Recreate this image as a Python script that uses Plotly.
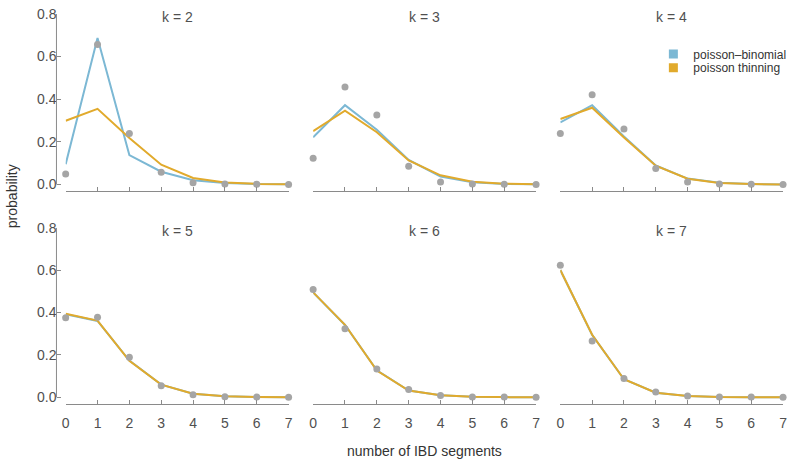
import plotly.graph_objects as go

W, H = 792, 461

segments = [0, 1, 2, 3, 4, 5, 6, 7]
k_values = [2, 3, 4, 5, 6, 7]

observed = {
    2: [0.049, 0.656, 0.239, 0.057, 0.008, 0.002, 0.001, 0.000],
    3: [0.123, 0.457, 0.326, 0.086, 0.012, 0.003, 0.001, 0.000],
    4: [0.239, 0.421, 0.260, 0.075, 0.012, 0.003, 0.001, 0.000],
    5: [0.375, 0.377, 0.189, 0.054, 0.012, 0.003, 0.001, 0.000],
    6: [0.508, 0.323, 0.134, 0.037, 0.009, 0.002, 0.001, 0.000],
    7: [0.623, 0.266, 0.089, 0.025, 0.006, 0.002, 0.001, 0.000],
}
poisson_binomial = {
    2: [0.095, 0.687, 0.138, 0.060, 0.020, 0.007, 0.002, 0.001],
    3: [0.221, 0.372, 0.257, 0.115, 0.038, 0.011, 0.003, 0.001],
    4: [0.291, 0.372, 0.225, 0.089, 0.028, 0.008, 0.002, 0.000],
    5: [0.392, 0.360, 0.173, 0.060, 0.017, 0.005, 0.001, 0.000],
    6: [0.494, 0.341, 0.127, 0.032, 0.010, 0.003, 0.001, 0.000],
    7: [0.600, 0.294, 0.085, 0.022, 0.006, 0.001, 0.000, 0.000],
}
poisson_thinning = {
    2: [0.299, 0.355, 0.218, 0.093, 0.031, 0.010, 0.003, 0.001],
    3: [0.250, 0.346, 0.245, 0.113, 0.043, 0.013, 0.004, 0.001],
    4: [0.307, 0.360, 0.220, 0.088, 0.027, 0.007, 0.002, 0.000],
    5: [0.394, 0.362, 0.172, 0.060, 0.017, 0.005, 0.001, 0.000],
    6: [0.495, 0.342, 0.126, 0.032, 0.010, 0.003, 0.001, 0.000],
    7: [0.600, 0.295, 0.085, 0.022, 0.006, 0.001, 0.000, 0.000],
}
y_ticks = [0.0, 0.2, 0.4, 0.6, 0.8]
series_names = ["poisson\u2013binomial", "poisson thinning"]

BLUE = "#7cb8d4"
ORANGE = "#e1aa2c"
GREY = "#a5a5a5"
AXIS = "#8a8a8a"
TEXT = "#505050"
FONT = "Liberation Sans, Arial, Helvetica, sans-serif"

def px_x(p):
    return p / W

def px_y(p):
    return 1 - p / H

col_dom = [(62.3, 287.5), (312.3, 537.5), (562.0, 787.0)]
row_dom = [(187.0, 6.0), (404.0, 224.0)]  # (bottom px, top px)
y_range = [-0.032, 0.8]

fig = go.Figure()
layout = {}
shapes = []
annotations = []

for i, k in enumerate(k_values):
    r, c = divmod(i, 3)
    n = i + 1
    xa = f"x{n}" if n > 1 else "x"
    ya = f"y{n}" if n > 1 else "y"
    fig.add_trace(go.Scatter(x=segments, y=poisson_binomial[k], mode="lines",
                             line=dict(color=BLUE, width=2), xaxis=xa, yaxis=ya,
                             showlegend=False, hoverinfo="skip"))
    fig.add_trace(go.Scatter(x=segments, y=poisson_thinning[k], mode="lines",
                             line=dict(color=ORANGE, width=2), xaxis=xa, yaxis=ya,
                             showlegend=False, hoverinfo="skip"))
    fig.add_trace(go.Scatter(x=segments, y=observed[k], mode="markers",
                             marker=dict(color=GREY, size=7), cliponaxis=False,
                             xaxis=xa, yaxis=ya, showlegend=False))
    x0, x1 = col_dom[c]
    yb, yt = row_dom[r]
    xkey = "xaxis" if n == 1 else f"xaxis{n}"
    ykey = "yaxis" if n == 1 else f"yaxis{n}"
    layout[xkey] = dict(domain=[px_x(x0), px_x(x1)], range=[0, 7], anchor=ya,
                        showline=True, linecolor=AXIS, linewidth=1,
                        ticks="inside", ticklen=4, tickcolor=AXIS, tickwidth=1,
                        tickvals=segments, showticklabels=(r == 1),
                        tickfont=dict(size=14, color=TEXT, family=FONT),
                        ticklabelstandoff=6,
                        showgrid=False, zeroline=False, fixedrange=True)
    if c == 0:
        layout[ykey] = dict(domain=[px_y(yb), px_y(yt)], range=y_range,
                            anchor="free", position=px_x(53),
                            showline=False, ticks="inside", ticklen=4,
                            tickcolor=AXIS, tickwidth=1, tickvals=y_ticks,
                            tickformat=".1f",
                            tickfont=dict(size=14, color=TEXT, family=FONT),
                            showgrid=False, zeroline=False, fixedrange=True)
        shapes.append(dict(type="line", xref="paper", yref=ya,
                           x0=px_x(53), x1=px_x(53), y0=y_ticks[0], y1=y_ticks[-1],
                           line=dict(color=AXIS, width=1)))
    else:
        layout[ykey] = dict(domain=[px_y(yb), px_y(yt)], range=y_range,
                            anchor=xa, visible=False, fixedrange=True)
    annotations.append(dict(text=f"k = {k}", xref="paper", yref="paper",
                            x=px_x((x0 + x1) / 2), y=px_y(yt + 3.5),
                            xanchor="center", yanchor="middle", showarrow=False,
                            font=dict(size=14, color=TEXT, family=FONT)))

# legend entries (two separate legends so the rows sit close together)
fig.add_trace(go.Scatter(x=[None], y=[None], mode="markers", name=series_names[0],
                         marker=dict(symbol="square", size=9, color=BLUE),
                         legend="legend"))
fig.add_trace(go.Scatter(x=[None], y=[None], mode="markers", name=series_names[1],
                         marker=dict(symbol="square", size=9, color=ORANGE),
                         legend="legend2"))

annotations.append(dict(text="probability", xref="paper", yref="paper",
                        x=px_x(8), y=px_y(192), textangle=-90,
                        xanchor="center", yanchor="middle", showarrow=False,
                        font=dict(size=14, color="#333333", family=FONT)))
annotations.append(dict(text="number of IBD segments", xref="paper", yref="paper",
                        x=px_x(425), y=px_y(451.5),
                        xanchor="center", yanchor="middle", showarrow=False,
                        font=dict(size=14, color="#333333", family=FONT)))

leg_common = dict(xanchor="left", yanchor="middle",
                  font=dict(size=12, color="#333333", family=FONT),
                  bgcolor="rgba(0,0,0,0)", itemwidth=30, borderwidth=0)

fig.update_layout(
    width=W, height=H,
    margin=dict(l=0, r=0, t=0, b=0),
    paper_bgcolor="white", plot_bgcolor="white",
    font=dict(family=FONT, color=TEXT),
    showlegend=True,
    legend=dict(x=px_x(656), y=px_y(47), **leg_common),
    legend2=dict(x=px_x(656), y=px_y(61), **leg_common),
    shapes=shapes,
    annotations=annotations,
    **layout,
)

fig.write_html("out.html",
               config={"displayModeBar": False},
               post_script="document.body.style.margin='0';document.body.style.padding='0';document.body.style.overflow='hidden';")
